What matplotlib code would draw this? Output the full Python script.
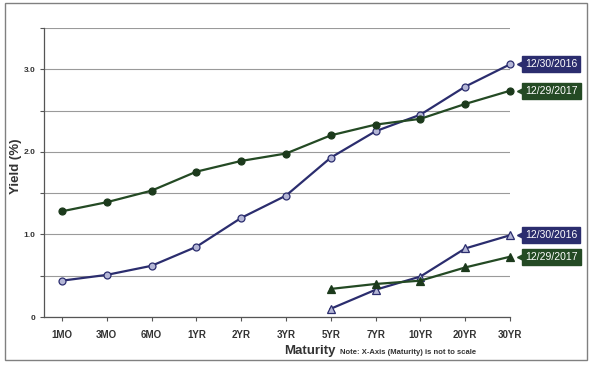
import numpy as np
import matplotlib.pyplot as plt
from matplotlib.patches import Rectangle
from matplotlib.transforms import offset_copy

plt.rcParams['font.family'] = ['Liberation Sans', 'DejaVu Sans']

maturities = ['1MO', '3MO', '6MO', '1YR', '2YR', '3YR', '5YR', '7YR', '10YR', '20YR', '30YR']
nominal_2016 = [0.44, 0.51, 0.62, 0.85, 1.20, 1.47, 1.93, 2.25, 2.45, 2.79, 3.06]
nominal_2017 = [1.28, 1.39, 1.53, 1.76, 1.89, 1.98, 2.20, 2.33, 2.40, 2.58, 2.74]
tips_maturities = ['5YR', '7YR', '10YR', '20YR', '30YR']
tips_2016 = [0.10, 0.33, 0.49, 0.83, 0.99]
tips_2017 = [0.34, 0.40, 0.44, 0.60, 0.73]
date_2016 = '12/30/2016'
date_2017 = '12/29/2017'

navy = '#2b2d6e'
navy_fill = '#b4b6d6'
green = '#244a24'
green_fill = '#1c3a1c'

fig = plt.figure(figsize=(6.03, 3.70), dpi=100)
fig.add_artist(Rectangle((5 / 603, 10 / 370), 582 / 603, 357 / 370, transform=fig.transFigure,
                         fill=False, edgecolor='#808080', linewidth=1.0))
ax = fig.add_axes([44 / 603, 53 / 370, 466 / 603, 289 / 370])

x = np.arange(len(maturities))
xt = np.array([maturities.index(m) for m in tips_maturities])

ax.plot(x, nominal_2016, color=navy, lw=1.6, marker='o', ms=5, mfc=navy_fill, mec=navy, mew=0.9,
        clip_on=False, zorder=3)
ax.plot(x, nominal_2017, color=green, lw=1.6, marker='o', ms=5, mfc=green_fill, mec=green_fill, mew=0.9,
        clip_on=False, zorder=3)
ax.plot(xt, tips_2016, color=navy, lw=1.6, marker='^', ms=6, mfc=navy_fill, mec=navy, mew=0.9,
        clip_on=False, zorder=3)
ax.plot(xt, tips_2017, color=green, lw=1.6, marker='^', ms=6, mfc=green_fill, mec=green_fill, mew=0.9,
        clip_on=False, zorder=3)

# date tags at the right end of each line
for val, label, col in [(nominal_2016[-1], date_2016, navy), (nominal_2017[-1], date_2017, green),
                        (tips_2016[-1], date_2016, navy), (tips_2017[-1], date_2017, green)]:
    ax.annotate(label, xy=(x[-1], val), xytext=(15, 0), textcoords='offset pixels',
                ha='left', va='center', fontsize=7.5, color='white', annotation_clip=False,
                bbox=dict(boxstyle='square,pad=0.3', fc=col, ec=col))
    tr = offset_copy(ax.transData, fig=fig, x=10, y=0, units='dots')
    ax.plot([x[-1]], [val], marker='<', ms=5, color=col, transform=tr, clip_on=False)

ax.set_xlim(-0.4, 10)
ax.set_ylim(0, 3.5)
ax.set_yticks([0, 0.5, 1.0, 1.5, 2.0, 2.5, 3.0, 3.5])
ax.set_yticklabels(['0', '', '1.0', '', '2.0', '', '3.0', ''])
ax.set_xticks(x)
ax.set_xticklabels(maturities)
for lab in ax.get_xticklabels():
    lab.set_fontsize(7)
    lab.set_fontweight('bold')
    lab.set_color('#333333')
for lab in ax.get_yticklabels():
    lab.set_fontsize(6)
    lab.set_fontweight('bold')
    lab.set_color('#333333')
ax.tick_params(axis='x', length=3, pad=6, color='#555555')
ax.tick_params(axis='y', length=3, pad=3, color='#555555')
ax.grid(axis='y', color='#9a9a9a', lw=0.8)
ax.set_axisbelow(True)
for s in ['top', 'right']:
    ax.spines[s].set_visible(False)
for s in ['left', 'bottom']:
    ax.spines[s].set_color('#555555')
    ax.spines[s].set_linewidth(0.9)

ax.set_ylabel('Yield (%)', fontsize=9.5, fontweight='bold', color='#333333')
ax.yaxis.set_label_coords(-22 / 466, 0.52)
fig.text(310 / 603, 1 - 351 / 370, 'Maturity', fontsize=9.5, fontweight='bold', color='#333333',
         ha='center', va='center')
fig.text(340 / 603, 1 - 352 / 370, 'Note: X-Axis (Maturity) is not to scale', fontsize=5.5,
         fontweight='bold', color='#333333', ha='left', va='center')

fig.savefig('out.png', dpi=100)
